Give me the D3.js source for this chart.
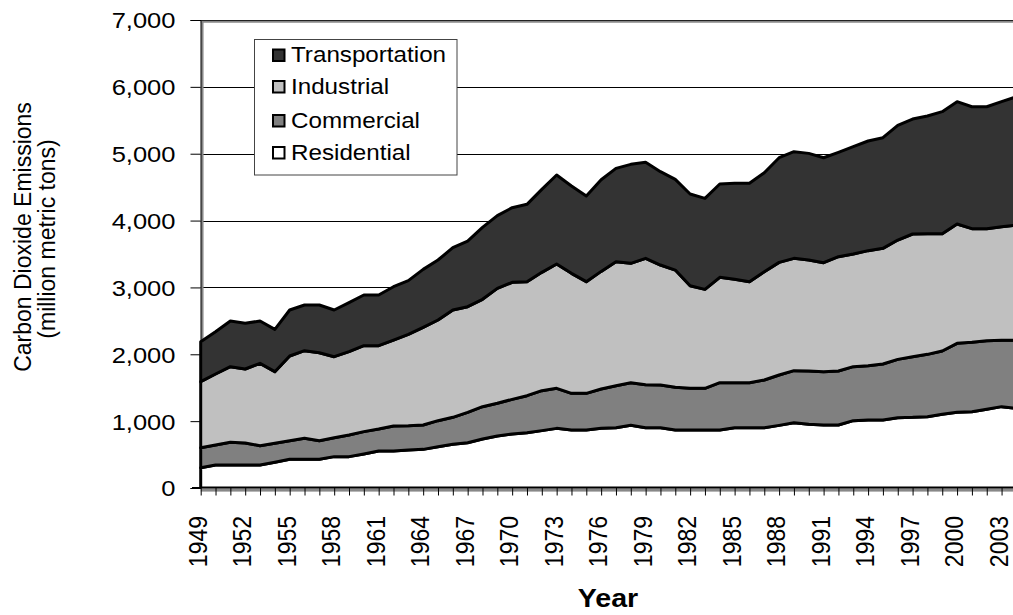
<!DOCTYPE html>
<html>
<head>
<meta charset="utf-8">
<script src="https://cdn.jsdelivr.net/npm/d3@7"></script>
<style>
  html, body { margin: 0; padding: 0; background: #fff; }
  svg { display: block; }
  text { font-family: "Liberation Sans", Arial, sans-serif; fill: #000; }
</style>
</head>
<body>
<svg id="chart" width="1013" height="615"></svg>
<script>
const years = [1949,1950,1951,1952,1953,1954,1955,1956,1957,1958,
  1959,1960,1961,1962,1963,1964,1965,1966,1967,1968,
  1969,1970,1971,1972,1973,1974,1975,1976,1977,1978,
  1979,1980,1981,1982,1983,1984,1985,1986,1987,1988,
  1989,1990,1991,1992,1993,1994,1995,1996,1997,1998,
  1999,2000,2001,2002,2003,2004];
const residential = [304,344,344,344,344,384,429,429,429,469,
  469,509,553,553,568,578,618,653,678,733,
  778,808,828,858,892,867,867,892,902,937,
  902,902,867,867,867,867,902,902,902,937,
  975,952,942,942,1007,1017,1017,1052,1057,1067,
  1102,1132,1142,1177,1217,1192];
const commercial = [299,299,339,329,289,284,279,314,279,284,
  324,334,329,374,364,364,389,404,454,483,
  489,518,553,598,599,549,549,588,628,638,
  643,638,639,624,624,708,673,673,713,753,
  780,798,798,808,808,813,838,872,907,932,
  947,1032,1037,1027,992,1017];
const industrial = [987,1062,1132,1107,1231,1072,1266,1311,1316,1211,
  1246,1286,1247,1286,1366,1461,1506,1605,1580,1606,
  1719,1750,1705,1770,1859,1795,1670,1760,1855,1785,
  1890,1795,1754,1535,1480,1576,1546,1511,1621,1685,
  1680,1660,1630,1710,1685,1720,1730,1785,1835,1805,
  1755,1784,1700,1675,1700,1724];
const transportation = [599,633,683,683,634,633,688,683,713,698,
  733,758,758,798,803,867,897,932,982,1077,
  1087,1117,1157,1241,1331,1306,1281,1370,1396,1481,
  1436,1396,1356,1371,1361,1396,1436,1471,1480,1565,
  1595,1595,1570,1560,1605,1640,1655,1715,1720,1760,
  1825,1830,1824,1824,1869,1920];
const seriesNames = ["Residential","Commercial","Industrial","Transportation"];
const seriesColors = ["#ffffff","#808080","#c0c0c0","#333333"];
const yTicks = [0,1000,2000,3000,4000,5000,6000,7000];
const xLabelYears = [1949,1952,1955,1958,1961,1964,1967,1970,1973,1976,1979,1982,1985,1988,1991,1994,1997,2000,2003];
const legendOrder = ["Transportation","Industrial","Commercial","Residential"];

(function () {
const svg = d3.select("#chart");
const W = 1013;
const pLeft = 200.7, pRight = 1016.4, pTop = 20, pBottom = 488;

const x = d3.scaleLinear().domain([1949, 2004]).range([pLeft, pRight]);
const y = d3.scaleLinear().domain([0, 7000]).range([pBottom, pTop]);

const table = years.map((yr, i) => ({
  year: yr,
  Residential: residential[i],
  Commercial: commercial[i],
  Industrial: industrial[i],
  Transportation: transportation[i]
}));
const stacked = d3.stack().keys(seriesNames)(table);

// gridlines
svg.append("g").selectAll("line").data(yTicks.filter(d => d > 0)).join("line")
  .attr("x1", pLeft).attr("x2", W)
  .attr("y1", d => Math.round(y(d)) + 0.5).attr("y2", d => Math.round(y(d)) + 0.5)
  .attr("stroke", "#000").attr("stroke-width", 1);

// gray plot border (top/left)
svg.append("line").attr("x1", pLeft).attr("x2", W).attr("y1", 21.8).attr("y2", 21.8)
  .attr("stroke", "#888").attr("stroke-width", 2);
svg.append("line").attr("x1", 202.3).attr("x2", 202.3).attr("y1", 21).attr("y2", pBottom)
  .attr("stroke", "#888").attr("stroke-width", 2.5);

// clip
svg.append("clipPath").attr("id", "plotclip").append("rect")
  .attr("x", 198).attr("y", 0).attr("width", W - 198).attr("height", pBottom + 0.8);

const area = d3.area()
  .x(d => x(d.data.year))
  .y0(d => y(d[0]))
  .y1(d => y(d[1]));

svg.append("g").attr("clip-path", "url(#plotclip)")
  .selectAll("path").data(stacked).join("path")
  .attr("d", area)
  .attr("fill", (d, i) => seriesColors[i])
  .attr("stroke", "#000").attr("stroke-width", 3)
  .attr("stroke-linejoin", "round");

// gray band under x axis
svg.append("rect").attr("x", pLeft).attr("y", 488.6).attr("width", W - pLeft).attr("height", 3)
  .attr("fill", "#888");

// y axis
const yAxis = svg.append("g").attr("transform", `translate(${pLeft - 0.2},0)`)
  .call(d3.axisLeft(y).tickValues(yTicks).tickSize(10).tickFormat(d3.format(",")));
yAxis.select(".domain").attr("stroke", "#000").attr("stroke-width", 1);
yAxis.selectAll(".tick line").attr("stroke", "#000");
yAxis.selectAll(".tick text")
  .attr("x", null).attr("dy", "0.36em")
  .attr("transform", "translate(-25,0) scale(1.16,1)")
  .style("font-size", "22px").style("font-family", "'Liberation Sans', Arial, sans-serif")
  .attr("fill", "#000");

// x axis
const xAxis = svg.append("g").attr("transform", `translate(0,${pBottom - 0.5})`)
  .call(d3.axisBottom(x).tickValues(years).tickSize(8).tickFormat(""));
xAxis.select(".domain").remove();
xAxis.selectAll(".tick line").attr("stroke", "#000");
xAxis.append("line").attr("x1", 192).attr("x2", W).attr("y1", 0).attr("y2", 0)
  .attr("stroke", "#000").attr("stroke-width", 1.2);

svg.append("g").selectAll("text").data(xLabelYears).join("text")
  .attr("transform", d => `translate(${x(d) + 6},516) scale(1.1,1) rotate(-90)`)
  .attr("text-anchor", "end")
  .style("font-size", "23px")
  .text(d => d);

// axis titles
svg.append("text")
  .attr("transform", "translate(608,607) scale(1.1,1)")
  .attr("text-anchor", "middle")
  .style("font-size", "26px").style("font-weight", "bold")
  .text("Year");

const yt = svg.append("g");
yt.append("text")
  .attr("transform", "translate(31,237) rotate(-90)")
  .attr("text-anchor", "middle").style("font-size", "23px")
  .text("Carbon Dioxide Emissions");
yt.append("text")
  .attr("transform", "translate(55,239) rotate(-90)")
  .attr("text-anchor", "middle").style("font-size", "23px")
  .text("(million metric tons)");

// legend
const lg = svg.append("g");
lg.append("rect").attr("x", 254.5).attr("y", 39.5).attr("width", 202.5).attr("height", 135.5)
  .attr("fill", "#fff").attr("stroke", "#444").attr("stroke-width", 1);
const legendBaselines = [62, 93.5, 127.5, 159.5];
legendOrder.forEach((name, i) => {
  const idx = seriesNames.indexOf(name);
  const by = legendBaselines[i];
  lg.append("rect").attr("x", 273).attr("y", by - 12.5).attr("width", 11.5).attr("height", 11.5)
    .attr("fill", seriesColors[idx]).attr("stroke", "#000").attr("stroke-width", 2);
  lg.append("text")
    .attr("transform", `translate(291,${by}) scale(1.1,1)`)
    .style("font-size", "22px")
    .text(name);
});
})();
</script>
</body>
</html>
